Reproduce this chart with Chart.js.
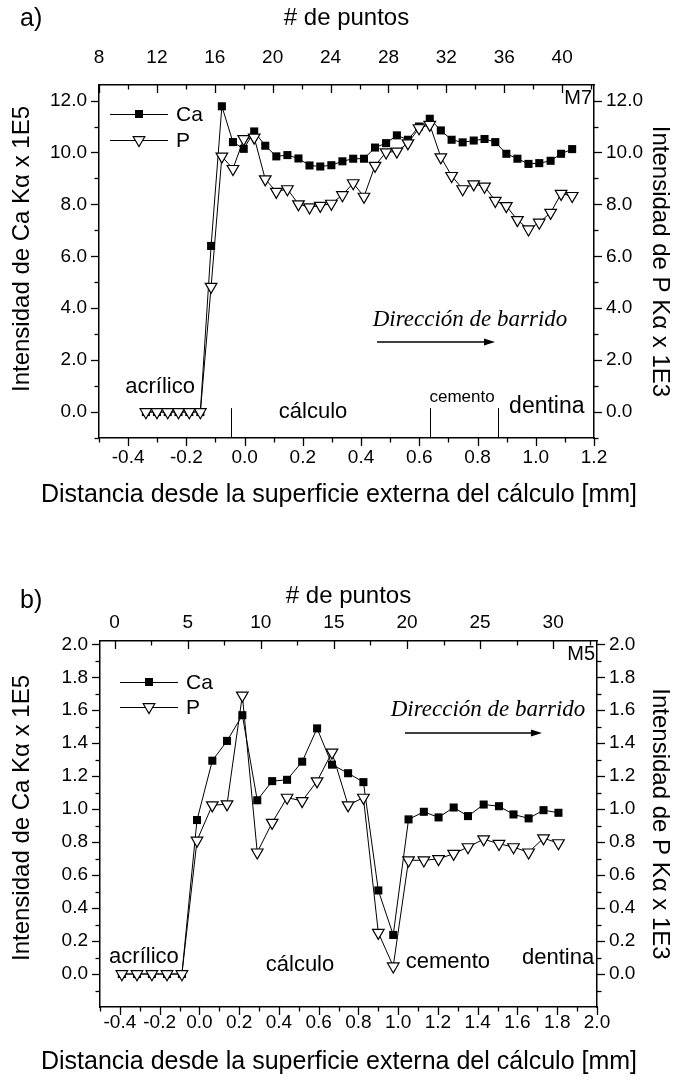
<!DOCTYPE html>
<html>
<head>
<meta charset="utf-8">
<script src="https://cdn.jsdelivr.net/npm/chart.js@4.4.0/dist/chart.umd.min.js"></script>
<style>
  body { margin: 0; background: #fff; width: 678px; height: 1082px; position: relative; overflow: hidden; font-family: 'Liberation Sans', Arial, sans-serif; }
  canvas { position: absolute; left: 0; }
  .tag { position: absolute; left: 20px; font-size: 25px; color: #000; }
</style>
</head>
<body>
<canvas id="chartA" width="678" height="520" style="top:0"></canvas>
<canvas id="chartB" width="678" height="522" style="top:560px"></canvas>
<div class="tag" style="top:3px">a)</div>
<div class="tag" style="top:585px">b)</div>
<script>
// ---- a) M7 ----
const distA = [-0.339, -0.301, -0.264, -0.227, -0.190, -0.152, -0.115, -0.078, -0.040, -0.003,
               0.033, 0.071, 0.109, 0.147, 0.185, 0.223, 0.260, 0.298, 0.336, 0.373,
               0.410, 0.448, 0.486, 0.523, 0.561, 0.599, 0.636, 0.674, 0.711, 0.749,
               0.787, 0.824, 0.861, 0.899, 0.937, 0.975, 1.012, 1.051, 1.087, 1.125];
const caA = [0, 0, 0, 0, 0, 0, 6.40, 11.78, 10.40, 10.14,
             10.81, 10.26, 9.85, 9.90, 9.77, 9.50, 9.46, 9.51, 9.66, 9.76,
             9.76, 10.19, 10.36, 10.66, 10.49, 11.00, 11.30, 10.85, 10.49, 10.39,
             10.46, 10.52, 10.40, 9.95, 9.76, 9.56, 9.59, 9.68, 9.95, 10.13];
const pA = [0, 0, 0, 0, 0, 0, 4.83, 9.85, 9.37, 10.52,
            10.58, 8.97, 8.49, 8.59, 8.01, 7.89, 7.95, 8.03, 8.36, 8.82,
            8.30, 9.49, 10.01, 10.04, 10.36, 10.94, 11.07, 9.82, 9.10, 8.59,
            8.78, 8.69, 8.14, 7.94, 7.40, 7.04, 7.30, 7.68, 8.41, 8.33];
const xTicksA = [-0.4, -0.2, 0.0, 0.2, 0.4, 0.6, 0.8, 1.0, 1.2];
const topTicksA = [8, 12, 16, 20, 24, 28, 32, 36, 40];
const yTicksA = [0, 2, 4, 6, 8, 10, 12];

// ---- b) M5 ----
const distB = [-0.390, -0.314, -0.239, -0.163, -0.088, -0.012, 0.065, 0.139, 0.216, 0.291,
               0.366, 0.441, 0.517, 0.592, 0.667, 0.748, 0.825, 0.900, 0.975, 1.052,
               1.129, 1.203, 1.279, 1.351, 1.430, 1.507, 1.580, 1.656, 1.731, 1.806];
const caB = [0, 0, 0, 0, 0, 0.934, 1.294, 1.414, 1.570, 1.054,
             1.170, 1.178, 1.288, 1.490, 1.270, 1.218, 1.164, 0.507, 0.237, 0.938,
             0.984, 0.950, 1.010, 0.958, 1.028, 1.018, 0.968, 0.944, 0.994, 0.978];
const pB = [0, 0, 0, 0, 0, 0.810, 1.024, 1.030, 1.690, 0.738,
            0.918, 1.070, 1.050, 1.170, 1.344, 1.024, 1.070, 0.251, 0.047, 0.690,
            0.690, 0.698, 0.730, 0.770, 0.818, 0.790, 0.770, 0.738, 0.824, 0.794];
const xTicksB = [-0.4, -0.2, 0.0, 0.2, 0.4, 0.6, 0.8, 1.0, 1.2, 1.4, 1.6, 1.8, 2.0];
const topTicksB = [0, 5, 10, 15, 20, 25, 30];
const yTicksB = [0.0, 0.2, 0.4, 0.6, 0.8, 1.0, 1.2, 1.4, 1.6, 1.8, 2.0];

const FONT = "'Liberation Sans', Arial, sans-serif";
const SERIF = "'Liberation Serif', 'Times New Roman', serif";
Chart.defaults.font.family = FONT;
Chart.defaults.color = '#000';

// minor tick values between start and end, every step, skipping the majors
function minors(start, end, step, majors) {
  const out = [];
  for (let v = start; v <= end + step / 100; v += step) {
    const r = Math.round(v * 1000) / 1000;
    if (!majors.some(m => Math.abs(m - r) < step / 10)) out.push(r);
  }
  return out;
}

// Origin style tick marks (major/minor, in or out)
const tickMarks = {
  id: 'tickMarks',
  afterDraw(chart, args, opts) {
    const ctx = chart.ctx;
    ctx.save();
    ctx.strokeStyle = '#000';
    ctx.lineWidth = 1.3;
    for (const [id, spec] of Object.entries(opts.axes || {})) {
      const s = chart.scales[id];
      const mark = (v, len) => {
        const p = Math.round(s.getPixelForValue(v)) + 0.5;
        ctx.beginPath();
        if (s.isHorizontal()) {
          const y0 = s.position === 'top' ? s.bottom : s.top;
          let dir = s.position === 'top' ? -1 : 1;
          if (spec.dir === 'in') dir = -dir;
          ctx.moveTo(p, y0); ctx.lineTo(p, y0 + dir * len);
        } else {
          const x0 = s.position === 'left' ? s.right : s.left;
          let dir = s.position === 'left' ? -1 : 1;
          if (spec.dir === 'in') dir = -dir;
          ctx.moveTo(x0, p); ctx.lineTo(x0 + dir * len, p);
        }
        ctx.stroke();
      };
      spec.major.forEach(v => mark(v, 8));
      spec.minor.forEach(v => mark(v, 4.5));
    }
    ctx.restore();
  }
};

// text labels, region marks, arrow, legend and the long axis titles
const notes = {
  id: 'notes',
  afterDatasetsDraw(chart, args, o) {
    const { ctx, chartArea: ca } = chart;
    const xs = chart.scales.x, ys = chart.scales.y;
    ctx.save();
    ctx.fillStyle = '#000';
    ctx.strokeStyle = '#000';
    ctx.textBaseline = 'middle';
    ctx.textAlign = 'center';
    o.labels.forEach(l => {
      ctx.font = l.font;
      ctx.fillText(l.text, xs.getPixelForValue(l.x), ys.getPixelForValue(l.y));
    });
    ctx.lineWidth = 1;
    o.marks.forEach(m => {
      const x = Math.round(xs.getPixelForValue(m)) + 0.5;
      ctx.beginPath();
      ctx.moveTo(x, ca.bottom);
      ctx.lineTo(x, ys.getPixelForValue(o.markTop));
      ctx.stroke();
    });
    // scan direction arrow
    const a = o.arrow;
    const ax1 = xs.getPixelForValue(a.x1), ax2 = xs.getPixelForValue(a.x2), ay = ys.getPixelForValue(a.y);
    ctx.lineWidth = 1.6;
    ctx.beginPath(); ctx.moveTo(ax1, ay); ctx.lineTo(ax2 - 8, ay); ctx.stroke();
    ctx.beginPath(); ctx.moveTo(ax2, ay); ctx.lineTo(ax2 - 11, ay - 3.5); ctx.lineTo(ax2 - 11, ay + 3.5); ctx.closePath(); ctx.fill();
    // sample name
    ctx.font = '20px ' + FONT;
    ctx.textAlign = 'right';
    ctx.fillText(o.sample, ca.right - 2, ca.top + 13);
    // legend
    ctx.textAlign = 'left';
    ctx.font = '21px ' + FONT;
    o.legend.forEach((g, i) => {
      const y = ca.top + o.legendTop + i * o.legendGap;
      const x0 = ca.left + o.legendLeft;
      ctx.lineWidth = 1;
      ctx.beginPath(); ctx.moveTo(x0, y + 0.5); ctx.lineTo(x0 + 58, y + 0.5); ctx.stroke();
      const mx = x0 + 29;
      if (g.style === 'rect') {
        ctx.fillRect(mx - 4, y - 4, 8, 8);
      } else {
        ctx.beginPath();
        ctx.moveTo(mx - 5.8, y - 3.3); ctx.lineTo(mx + 5.8, y - 3.3); ctx.lineTo(mx, y + 6.6); ctx.closePath();
        ctx.fillStyle = '#fff'; ctx.fill(); ctx.fillStyle = '#000';
        ctx.lineWidth = 1.2; ctx.stroke();
      }
      ctx.fillText(g.text, x0 + 66, y + 1);
    });
    // bottom and left axis titles, drawn at full width
    ctx.textAlign = 'center';
    ctx.font = '25px ' + FONT;
    ctx.fillText('Distancia desde la superficie externa del cálculo [mm]', chart.width / 2, o.xTitleY);
    ctx.font = '24px ' + FONT;
    ctx.translate(22, o.yTitleY);
    ctx.rotate(-Math.PI / 2);
    ctx.fillText('Intensidad de Ca K\u03B1 x 1E5', 0, 0);
    ctx.restore();
  }
};

function buildChart(id, cfg) {
  const pts = arr => cfg.dist.map((d, i) => ({ x: d, y: arr[i] }));
  const fmt1 = v => Number(v).toFixed(1);
  const tickFont = { size: 19 };
  const titleFont = { size: 24 };
  const setTicks = vals => s => { s.ticks = vals.map(v => ({ value: v })); };
  return new Chart(document.getElementById(id), {
    type: 'line',
    data: {
      datasets: [
        {
          label: 'P', data: pts(cfg.p), order: 0,
          borderColor: '#000', borderWidth: 1, tension: 0,
          pointStyle: 'triangle', rotation: 180, pointRadius: 6.7,
          pointBackgroundColor: '#fff', pointBorderColor: '#000', pointBorderWidth: 1.2,
        },
        {
          label: 'Ca', data: pts(cfg.ca), order: 1,
          borderColor: '#000', borderWidth: 1, tension: 0,
          pointStyle: 'rect', pointRadius: 5.7,
          pointBackgroundColor: '#000', pointBorderColor: '#000', pointBorderWidth: 0,
        },
      ],
    },
    options: {
      responsive: false,
      animation: false,
      layout: { padding: 0 },
      plugins: {
        legend: { display: false },
        tooltip: { enabled: false },
        tickMarks: { axes: cfg.marks },
        notes: cfg.notes,
      },
      scales: {
        x: {
          type: 'linear', position: 'bottom', min: cfg.xMin, max: cfg.xMax,
          grid: { display: false, drawTicks: false },
          border: { display: true, color: '#000', width: 1.5 },
          afterBuildTicks: setTicks(cfg.xTicks),
          afterFit: s => { s.height = cfg.box.bottom; },
          ticks: { font: tickFont, padding: cfg.box.xPad, maxRotation: 0, callback: fmt1 },
        },
        x2: {
          type: 'linear', position: 'top', min: cfg.topMin, max: cfg.topMax,
          grid: { display: false, drawTicks: false },
          border: { display: true, color: '#000', width: 1.5 },
          afterBuildTicks: setTicks(cfg.topTicks),
          afterFit: s => { s.height = cfg.box.top; },
          ticks: { font: tickFont, padding: cfg.box.topPad, maxRotation: 0, callback: v => String(v) },
          title: { display: true, text: '# de puntos', font: titleFont, padding: { top: cfg.box.topTitle } },
        },
        y: {
          type: 'linear', position: 'left', min: cfg.yMin, max: cfg.yMax,
          grid: { display: false, drawTicks: false },
          border: { display: true, color: '#000', width: 1.5 },
          afterBuildTicks: setTicks(cfg.yTicks),
          afterFit: s => { s.width = cfg.box.left; },
          ticks: { font: tickFont, padding: 12, callback: fmt1 },
        },
        y2: {
          type: 'linear', position: 'right', min: cfg.yMin, max: cfg.yMax,
          grid: { display: false, drawTicks: false },
          border: { display: true, color: '#000', width: 1.5 },
          afterBuildTicks: setTicks(cfg.yTicks),
          afterFit: s => { s.width = cfg.box.right; },
          ticks: { font: tickFont, padding: 12, callback: fmt1 },
          title: { display: true, text: 'Intensidad de P K\u03B1 x 1E3', font: titleFont, padding: { top: 4 } },
        },
      },
    },
    plugins: [tickMarks, notes],
  });
}

buildChart('chartA', {
  dist: distA, ca: caA, p: pA,
  xMin: -0.5, xMax: 1.2, topMin: 8, topMax: 42.2, yMin: -1.0, yMax: 12.6,
  xTicks: xTicksA, topTicks: topTicksA, yTicks: yTicksA,
  box: { left: 99, right: 84, top: 85, bottom: 82, topTitle: 4, xPad: 8, topPad: 16 },
  marks: {
    x: { dir: 'out', major: xTicksA, minor: minors(-0.5, 1.1, 0.1, xTicksA) },
    x2: { dir: 'in', major: topTicksA, minor: minors(10, 42, 2, topTicksA) },
    y: { dir: 'out', major: yTicksA, minor: minors(-1, 11, 1, yTicksA) },
    y2: { dir: 'out', major: yTicksA, minor: minors(-1, 11, 1, yTicksA) },
  },
  notes: {
    labels: [
      { text: 'acrílico', x: -0.29, y: 0.97, font: '22px ' + FONT },
      { text: 'cálculo', x: 0.235, y: 0.0, font: '22px ' + FONT },
      { text: 'cemento', x: 0.747, y: 0.58, font: '17px ' + FONT },
      { text: 'dentina', x: 1.038, y: 0.2, font: '23px ' + FONT },
      { text: 'Dirección de barrido', x: 0.774, y: 3.55, font: 'italic 23px ' + SERIF },
    ],
    marks: [-0.048, 0.638, 0.869],
    markTop: 0.15,
    arrow: { x1: 0.455, x2: 0.86, y: 2.7 },
    sample: 'M7',
    legend: [{ text: 'Ca', style: 'rect' }, { text: 'P', style: 'tri' }],
    legendLeft: 11, legendTop: 29, legendGap: 26,
    xTitleY: 495, yTitleY: 249,
  },
});

buildChart('chartB', {
  dist: distB, ca: caB, p: pB,
  xMin: -0.5, xMax: 2.0, topMin: -1, topMax: 33, yMin: -0.2, yMax: 2.02,
  xTicks: xTicksB, topTicks: topTicksB, yTicks: yTicksB,
  box: { left: 100, right: 81, top: 81, bottom: 75, topTitle: 22, xPad: 4, topPad: 7 },
  marks: {
    x: { dir: 'out', major: xTicksB, minor: minors(-0.5, 1.9, 0.1, xTicksB) },
    x2: { dir: 'in', major: topTicksB, minor: minors(2.5, 32.5, 5, []) },
    y: { dir: 'out', major: yTicksB, minor: minors(-0.1, 1.9, 0.1, yTicksB) },
    y2: { dir: 'out', major: yTicksB, minor: minors(-0.1, 1.9, 0.1, yTicksB) },
  },
  notes: {
    labels: [
      { text: 'acrílico', x: -0.279, y: 0.104, font: '22px ' + FONT },
      { text: 'cálculo', x: 0.506, y: 0.055, font: '22px ' + FONT },
      { text: 'cemento', x: 1.25, y: 0.073, font: '22px ' + FONT },
      { text: 'dentina', x: 1.804, y: 0.098, font: '22px ' + FONT },
      { text: 'Dirección de barrido', x: 1.452, y: 1.60, font: 'italic 23px ' + SERIF },
    ],
    marks: [],
    markTop: 0,
    arrow: { x1: 1.034, x2: 1.723, y: 1.462 },
    sample: 'M5',
    legend: [{ text: 'Ca', style: 'rect' }, { text: 'P', style: 'tri' }],
    legendLeft: 20, legendTop: 41, legendGap: 25,
    xTitleY: 502, yTitleY: 258,
  },
});
</script>
</body>
</html>
